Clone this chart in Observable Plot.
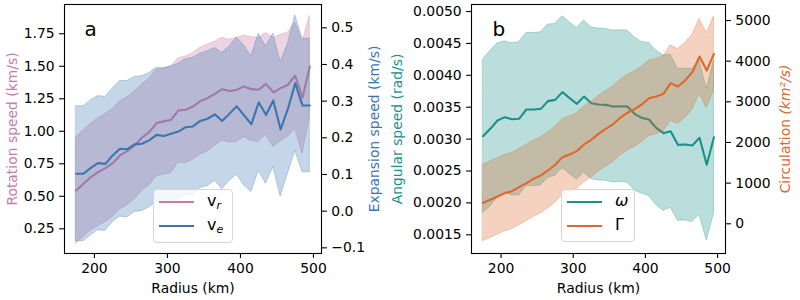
<!DOCTYPE html>
<html><head><meta charset="utf-8">
<script src="https://cdn.jsdelivr.net/npm/d3@7"></script>
<script src="https://cdn.jsdelivr.net/npm/@observablehq/plot@0.6"></script>
<style>
body{margin:0;background:#fff;font-family:"DejaVu Sans",sans-serif;}
#wrap{position:relative;width:800px;height:300px;overflow:hidden;}
#wrap svg{position:absolute;left:0;top:0;}
.lg{position:absolute;background:rgba(255,255,255,0.8);border:1px solid #d6d6d6;border-radius:4px;box-sizing:border-box;}
.sw{position:absolute;height:2px;}
.lt{position:absolute;font-size:16px;line-height:16px;color:#000;}
</style>
</head><body><div id="wrap"></div>
<script>
// ---- data ----
const radius = [175,185,195,205,215,225,235,245,255,265,275,285,295,305,315,325,335,345,355,365,375,385,395,405,415,425,435,445,455,465,475,485,495];
const vRot = [0.545,0.596,0.647,0.686,0.717,0.755,0.814,0.847,0.891,0.950,0.993,1.063,1.076,1.088,1.160,1.165,1.191,1.232,1.255,1.288,1.324,1.309,1.319,1.345,1.324,1.319,1.365,1.299,1.332,1.358,1.427,1.258,1.499];
const vRotStd = [0.41,0.41,0.41,0.415,0.415,0.415,0.415,0.415,0.415,0.41,0.41,0.41,0.41,0.41,0.40,0.41,0.41,0.41,0.41,0.40,0.395,0.395,0.40,0.39,0.40,0.40,0.39,0.42,0.41,0.40,0.41,0.43,0.39];
const vExp = [0.102,0.102,0.118,0.131,0.129,0.152,0.170,0.169,0.182,0.184,0.193,0.208,0.205,0.211,0.217,0.229,0.231,0.246,0.252,0.264,0.246,0.266,0.286,0.261,0.237,0.297,0.262,0.302,0.223,0.279,0.349,0.288,0.288];
const vExpStd = [0.184,0.184,0.184,0.183,0.183,0.182,0.185,0.186,0.184,0.184,0.183,0.183,0.184,0.184,0.185,0.185,0.187,0.183,0.184,0.181,0.186,0.183,0.187,0.191,0.185,0.187,0.187,0.182,0.183,0.177,0.185,0.182,0.182];
const omega = [0.003046,0.003161,0.003292,0.003344,0.003312,0.003318,0.003464,0.003464,0.003474,0.003595,0.003615,0.003736,0.003642,0.003553,0.003668,0.003563,0.003542,0.003537,0.003511,0.003516,0.003511,0.003396,0.003333,0.003307,0.003177,0.003093,0.003124,0.002910,0.002915,0.002900,0.003020,0.002597,0.003030];
const omegaStd = [0.00120,0.00122,0.00121,0.00119,0.00119,0.00120,0.00120,0.00120,0.00120,0.00120,0.00119,0.00119,0.00119,0.00119,0.00119,0.00119,0.00119,0.00119,0.00119,0.00119,0.00119,0.00120,0.00119,0.00120,0.00121,0.00122,0.00120,0.00119,0.00119,0.00120,0.00121,0.00119,0.00120];
const gamma = [516,590,672,754,803,902,1000,1107,1189,1311,1451,1639,1705,1787,1951,2066,2213,2336,2443,2607,2730,2820,2934,3090,3131,3197,3459,3377,3525,3730,4115,3770,4180];
const gammaStd = [942,940,940,940,938,938,936,936,935,935,934,934,933,933,932,932,931,931,930,930,929,929,928,928,927,926,925,924,923,922,921,920,918];

const xTicks = [200,300,400,500];
const aLeftTicks = [0.25,0.5,0.75,1.0,1.25,1.5,1.75];
const aRightTicks = [-0.1,0,0.1,0.2,0.3,0.4,0.5];
const bLeftTicks = [0.0015,0.002,0.0025,0.003,0.0035,0.004,0.0045,0.005];
const bRightTicks = [0,1000,2000,3000,4000,5000];

const xLabel = "Radius (km)";
const labelRot = "Rotation speed (km/s)";
const labelExp = "Expansion speed (km/s)";
const labelAng = "Angular speed (rad/s)";
const labelCirc = "Circulation (km²/s)";

// ---- style ----
const PINK = "#c77ca8", BLUE = "#3b76b0", TEAL = "#1b9189", ORANGE = "#dc6a2c";
const rows = radius.map((r,i)=>({r, vr:vRot[i], sr:vRotStd[i], ve:vExp[i], se:vExpStd[i], w:omega[i], sw:omegaStd[i], g:gamma[i], sg:gammaStd[i]}));
const style = {fontFamily:"DejaVu Sans", fontSize:"13.9px", color:"#000", background:"transparent", overflow:"visible"};
const tk = {tickSize:4.9, tickPadding:4.9, strokeWidth:1.1, label:null};
const wrap = document.getElementById("wrap");
const xDom = [159,511];

function band(y1, y2, color, op){
  return Plot.areaY(rows,{x:"r", y1, y2, fill:color, fillOpacity:op, stroke:color, strokeOpacity:op, strokeWidth:1});
}
function vlabel(txt, anchor, dx, color){
  return Plot.text([txt],{text:d=>d, frameAnchor:anchor, rotate:-90, dx, fill:color, fontSize:13.9, textAnchor:"middle", lineAnchor:"middle"});
}

// Panel a base (left axis)
const a1 = Plot.plot({width:800,height:300,marginLeft:64,marginRight:479,marginTop:4,marginBottom:47,
  x:{domain:xDom}, y:{domain:[0.06,1.975]}, style,
  marks:[
    band(d=>d.vr-d.sr, d=>d.vr+d.sr, PINK, 0.33),
    Plot.lineY(rows,{x:"r",y:"vr",stroke:PINK,strokeWidth:2.1}),
    Plot.frame({stroke:"#000",strokeWidth:1.1}),
    Plot.axisX({...tk, ticks:xTicks, tickFormat:"d"}),
    Plot.axisY({...tk, ticks:aLeftTicks, tickFormat:".2f"}),
    vlabel(labelRot, "left", -52, PINK),
    Plot.text([xLabel],{text:d=>d, frameAnchor:"bottom", dy:35, fontSize:13.9, lineAnchor:"middle"}),
    Plot.text(["a"],{text:d=>d, frameAnchor:"top-left", dx:20, dy:25, fontSize:20, textAnchor:"start", lineAnchor:"middle"})
  ]});
// Panel a overlay (right axis)
const a2 = Plot.plot({width:800,height:300,marginLeft:64,marginRight:479,marginTop:4,marginBottom:47,
  x:{domain:xDom, axis:null}, y:{domain:[-0.1155,0.5636]}, style,
  marks:[
    band(d=>d.ve-d.se, d=>d.ve+d.se, BLUE, 0.3),
    Plot.lineY(rows,{x:"r",y:"ve",stroke:BLUE,strokeWidth:2.1}),
    Plot.axisY({...tk, anchor:"right", ticks:aRightTicks, tickFormat:".1f"}),
    vlabel(labelExp, "right", 53, BLUE)
  ]});
// Panel b base (left axis)
const b1 = Plot.plot({width:800,height:300,marginLeft:471,marginRight:75,marginTop:4,marginBottom:47,
  x:{domain:xDom}, y:{domain:[0.001207,0.00511]}, style,
  marks:[
    band(d=>d.w-d.sw, d=>d.w+d.sw, TEAL, 0.3),
    Plot.lineY(rows,{x:"r",y:"w",stroke:TEAL,strokeWidth:2.1}),
    Plot.frame({stroke:"#000",strokeWidth:1.1}),
    Plot.axisX({...tk, ticks:xTicks, tickFormat:"d"}),
    Plot.axisY({...tk, ticks:bLeftTicks, tickFormat:".4f"}),
    vlabel(labelAng, "left", -74, TEAL),
    Plot.text([xLabel],{text:d=>d, frameAnchor:"bottom", dy:35, fontSize:13.9, lineAnchor:"middle"}),
    Plot.text(["b"],{text:d=>d, frameAnchor:"top-left", dx:21, dy:25, fontSize:20, textAnchor:"start", lineAnchor:"middle"})
  ]});
// Panel b overlay (right axis)
const b2 = Plot.plot({width:800,height:300,marginLeft:471,marginRight:75,marginTop:4,marginBottom:47,
  x:{domain:xDom, axis:null}, y:{domain:[-731,5394]}, style,
  marks:[
    band(d=>d.g-d.sg, d=>d.g+d.sg, ORANGE, 0.3),
    Plot.lineY(rows,{x:"r",y:"g",stroke:ORANGE,strokeWidth:2.1}),
    Plot.axisY({...tk, anchor:"right", ticks:bRightTicks, tickFormat:"d"}),
    vlabel(labelCirc, "right", 60, ORANGE)
  ]});

[a1,a2,b1,b2].forEach(s=>wrap.appendChild(s));

// italic unit part of circulation label
d3.select(b2).selectAll("text").filter(function(){return this.textContent===labelCirc;}).each(function(){
  const t = d3.select(this); t.text(null);
  t.append("tspan").text("Circulation ");
  t.append("tspan").attr("font-style","italic").text("(km²/s)");
});

// legends
function legend(left, top, w, h, items){
  const box = document.createElement("div");
  box.className = "lg";
  Object.assign(box.style,{left:left+"px",top:top+"px",width:w+"px",height:h+"px"});
  items.forEach((it,i)=>{
    const y = 12 + i*24;
    const s = document.createElement("div"); s.className="sw";
    Object.assign(s.style,{left:"5px",top:(y-1)+"px",width:"35px",background:it.color});
    box.appendChild(s);
    const t = document.createElement("div"); t.className="lt";
    Object.assign(t.style,{left:"53px",top:(y-9)+"px"});
    t.innerHTML = it.html;
    box.appendChild(t);
  });
  wrap.appendChild(box);
}
legend(153,189,80,54,[
  {color:PINK, html:'v<sub style="font-style:italic;font-size:11px;vertical-align:-3px">r</sub>'},
  {color:BLUE, html:'v<sub style="font-style:italic;font-size:11px;vertical-align:-3px">e</sub>'}
]);
legend(561,189,74,53,[
  {color:TEAL, html:'<i>ω</i>'},
  {color:ORANGE, html:'Γ'}
]);
</script>
</body></html>
